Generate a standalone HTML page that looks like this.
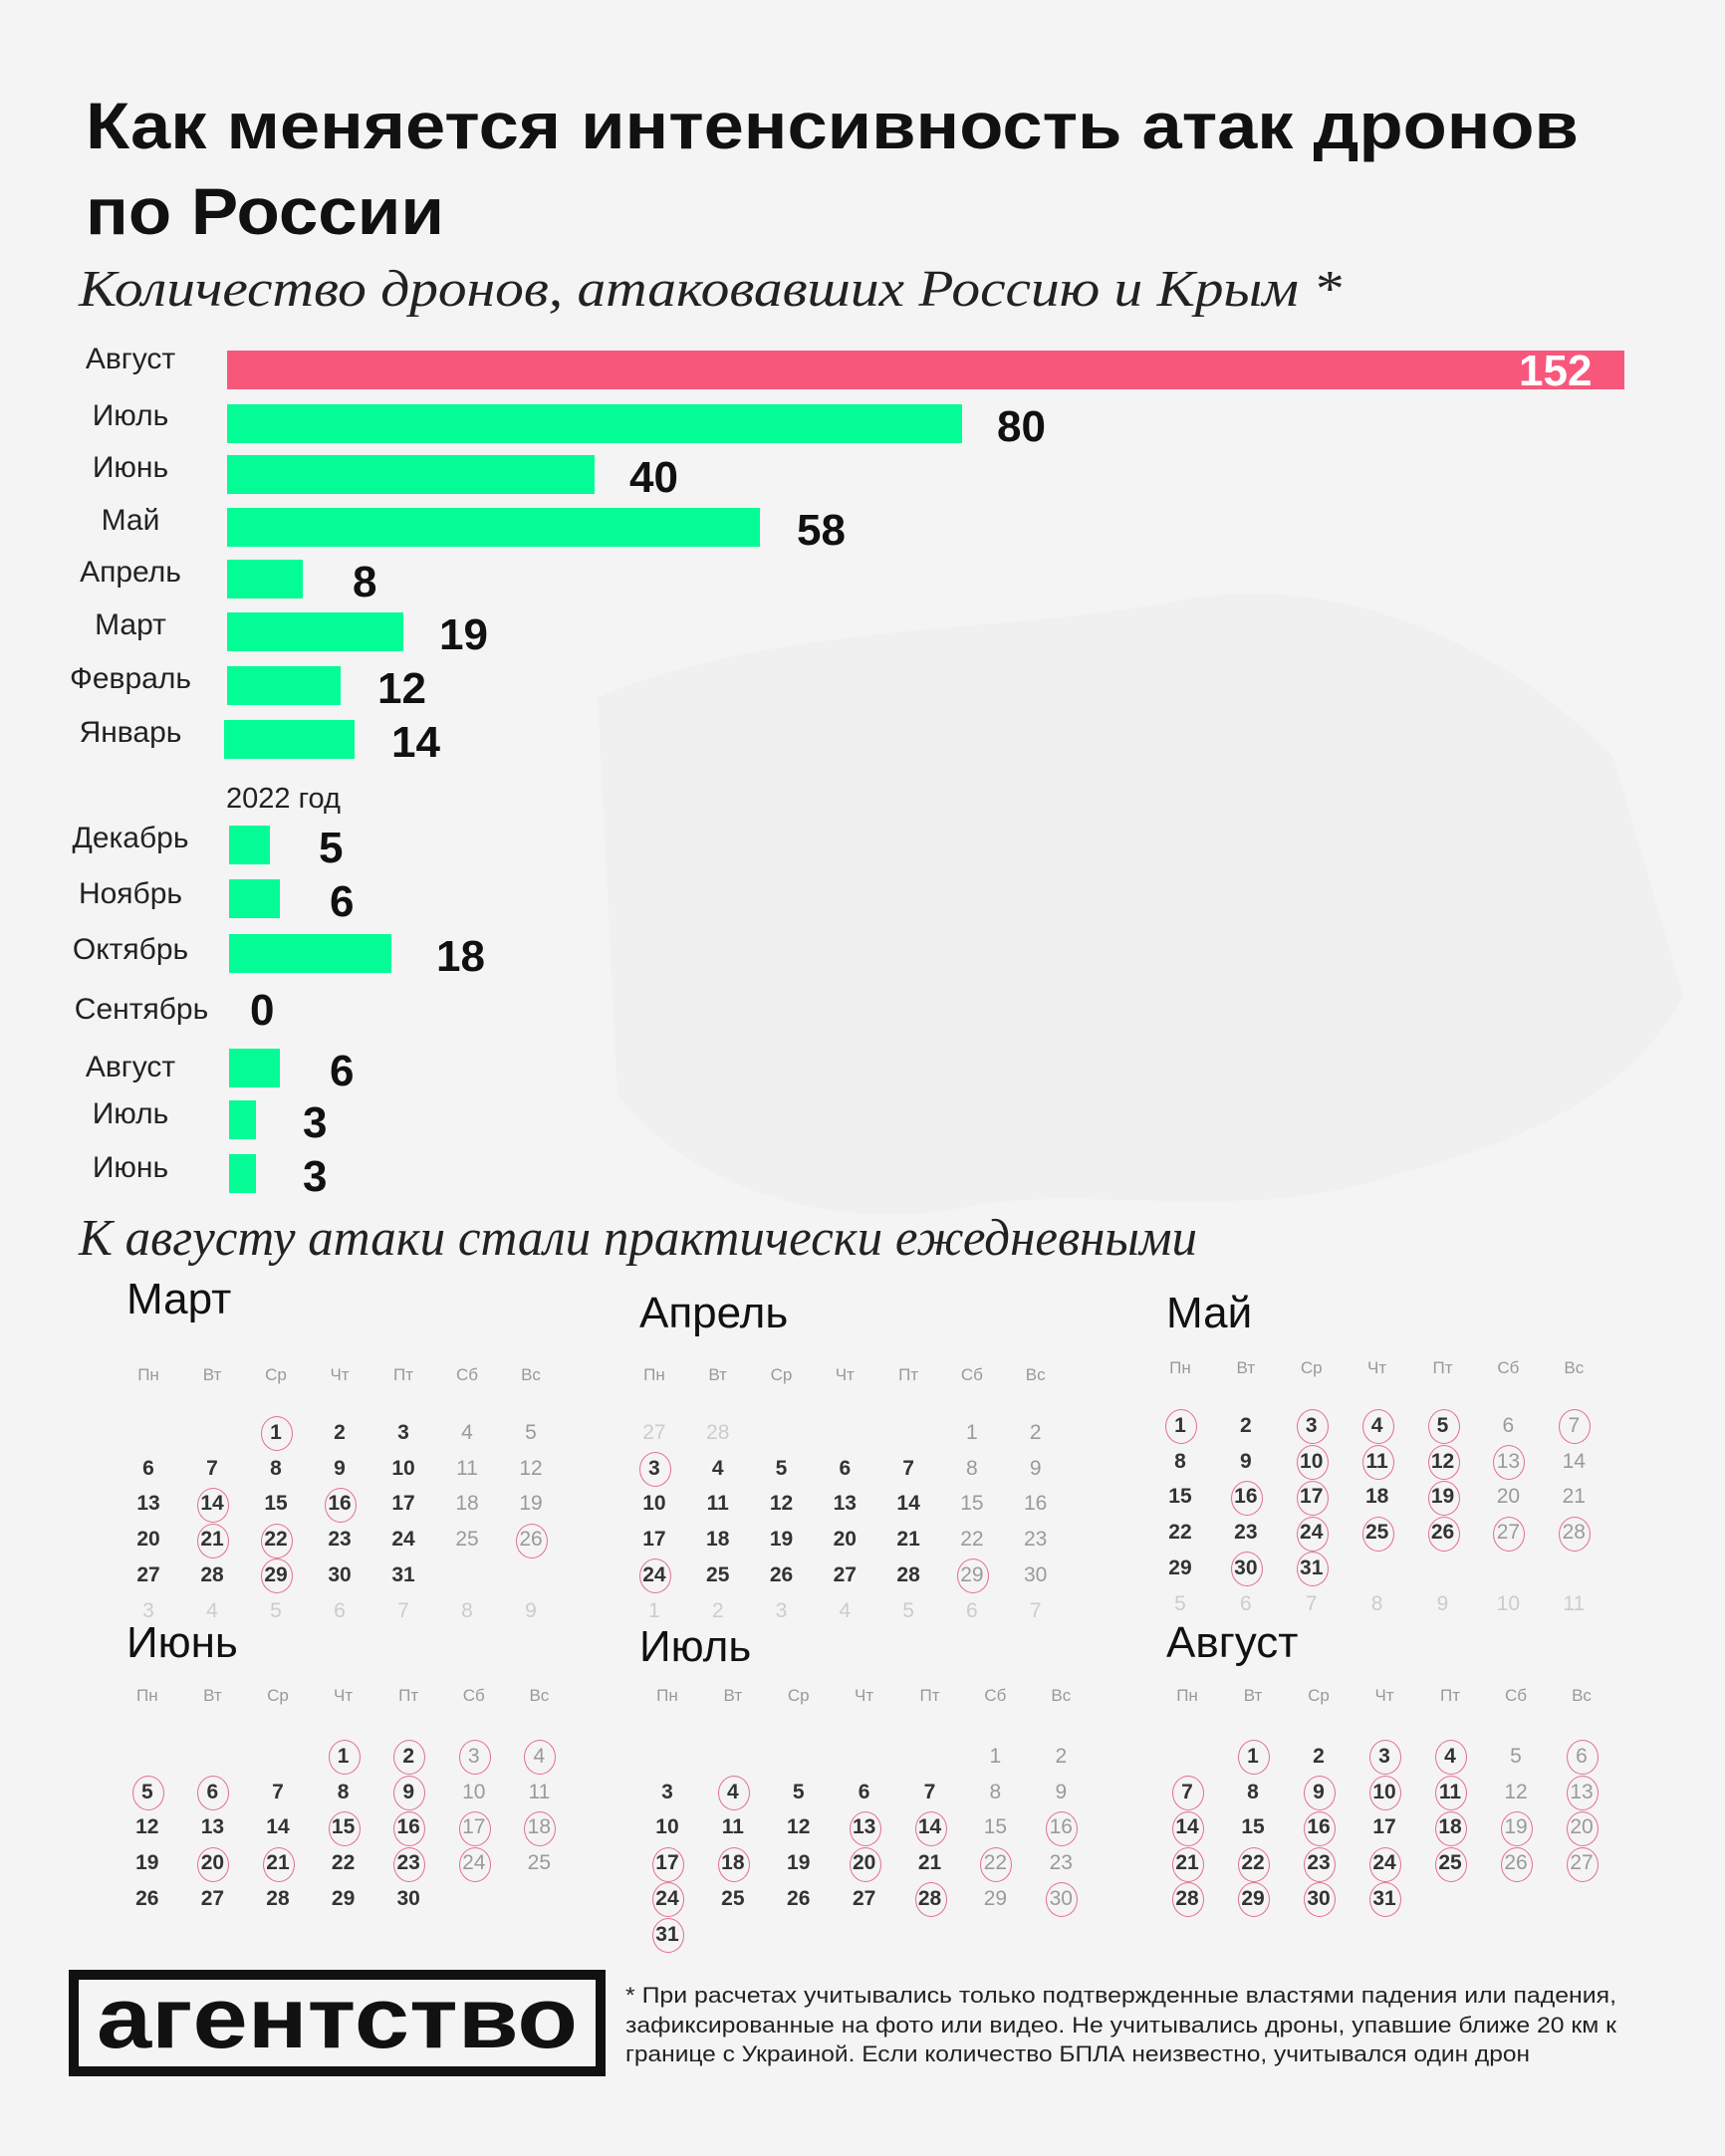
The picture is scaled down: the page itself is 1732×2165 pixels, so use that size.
<!DOCTYPE html>
<html><head><meta charset="utf-8">
<style>
*{margin:0;padding:0;box-sizing:border-box}
body{width:1732px;height:2165px;background:#f4f4f4;position:relative;overflow:hidden;font-family:"Liberation Sans",sans-serif;color:#111}
.bar{position:absolute;height:39px;background:#03fc96}
.val{position:absolute;font-weight:bold;font-size:44px;line-height:44px;color:#111}
.lab{position:absolute;width:200px;left:31px;text-align:center;font-size:30px;line-height:30px;color:#222}
.mt{position:absolute;font-size:44px;line-height:44px;color:#111}
.cal{position:absolute}
.g{display:grid;grid-template-columns:repeat(7,var(--s));}
.g i{font-style:normal;height:35.8px;line-height:35.8px;text-align:center;font-size:21px;font-weight:bold;color:#333;position:relative}
.h i{font-weight:normal;font-size:17px;color:#999}
.g i.w{color:#9a9a9a;font-weight:normal}
.g i.o{color:#ccc;font-weight:normal}
.g i.c::after{content:"";position:absolute;left:50%;top:50%;width:30px;height:33px;margin:-16.5px 0 0 -15px;border:1.6px solid #e5708c;border-radius:50%}
</style></head><body>
<svg width="1732" height="2165" style="position:absolute;left:0;top:0">
<path d="M600 700 C800 620 1000 640 1200 600 C1350 580 1500 640 1620 760 L1690 1000 C1640 1100 1520 1150 1400 1180 C1250 1230 1100 1190 980 1210 C850 1240 700 1200 620 1100 Z" fill="#f0f0f0"/>
<text x="86" y="149" font-family="Liberation Sans" font-weight="bold" font-size="66" textLength="1499" lengthAdjust="spacingAndGlyphs" fill="#111">Как меняется интенсивность атак дронов</text>
<text x="86" y="235" font-family="Liberation Sans" font-weight="bold" font-size="66" textLength="360" lengthAdjust="spacingAndGlyphs" fill="#111">по России</text>
<text x="79" y="307" font-family="Liberation Serif" font-style="italic" font-size="52" textLength="1268" lengthAdjust="spacingAndGlyphs" fill="#222">Количество дронов, атаковавших Россию и Крым *</text>
<text x="79" y="1260" font-family="Liberation Serif" font-style="italic" font-size="52" textLength="1123" lengthAdjust="spacingAndGlyphs" fill="#222">К августу атаки стали практически ежедневными</text>
<rect x="74" y="1983" width="529" height="97" fill="none" stroke="#111" stroke-width="10"/>
<text x="97" y="2056" font-family="Liberation Sans" font-weight="bold" font-size="86" textLength="483" lengthAdjust="spacingAndGlyphs" fill="#111">агентство</text>
<text x="628" y="2011" font-family="Liberation Sans" font-size="22" textLength="995" lengthAdjust="spacingAndGlyphs" fill="#222">* При расчетах учитывались только подтвержденные властями падения или падения,</text>
<text x="628" y="2041" font-family="Liberation Sans" font-size="22" textLength="995" lengthAdjust="spacingAndGlyphs" fill="#222">зафиксированные на фото или видео. Не учитывались дроны, упавшие ближе 20 км к</text>
<text x="628" y="2070" font-family="Liberation Sans" font-size="22" textLength="908" lengthAdjust="spacingAndGlyphs" fill="#222">границе с Украиной. Если количество БПЛА неизвестно, учитывался один дрон</text>
</svg>

<div class="bar" style="left:228px;top:352px;width:1403px;background:#f8577c"></div>
<div class="val" style="left:1525px;top:351px;color:#fff">152</div>
<div class="lab" style="top:346px">Август</div>

<div class="bar" style="left:228px;top:406px;width:738px"></div><div class="val" style="left:1001px;top:407px">80</div><div class="lab" style="top:403px">Июль</div>
<div class="bar" style="left:228px;top:457px;width:369px"></div><div class="val" style="left:632px;top:458px">40</div><div class="lab" style="top:455px">Июнь</div>
<div class="bar" style="left:228px;top:510px;width:535px"></div><div class="val" style="left:800px;top:511px">58</div><div class="lab" style="top:508px">Май</div>
<div class="bar" style="left:228px;top:562px;width:76px"></div><div class="val" style="left:354px;top:563px">8</div><div class="lab" style="top:560px">Апрель</div>
<div class="bar" style="left:228px;top:615px;width:177px"></div><div class="val" style="left:441px;top:616px">19</div><div class="lab" style="top:613px">Март</div>
<div class="bar" style="left:228px;top:669px;width:114px"></div><div class="val" style="left:379px;top:670px">12</div><div class="lab" style="top:667px">Февраль</div>
<div class="bar" style="left:225px;top:723px;width:131px"></div><div class="val" style="left:393px;top:724px">14</div><div class="lab" style="top:721px">Январь</div>
<div style="position:absolute;left:227px;top:786px;font-size:29px;color:#222">2022 год</div>
<div class="bar" style="left:230px;top:829px;width:41px"></div><div class="val" style="left:320px;top:830px">5</div><div class="lab" style="top:827px">Декабрь</div>
<div class="bar" style="left:230px;top:883px;width:51px"></div><div class="val" style="left:331px;top:884px">6</div><div class="lab" style="top:883px">Ноябрь</div>
<div class="bar" style="left:230px;top:938px;width:163px"></div><div class="val" style="left:438px;top:939px">18</div><div class="lab" style="top:939px">Октябрь</div>
<div class="val" style="left:251px;top:993px">0</div><div class="lab" style="top:999px;left:42px">Сентябрь</div>
<div class="bar" style="left:230px;top:1053px;width:51px"></div><div class="val" style="left:331px;top:1054px">6</div><div class="lab" style="top:1057px">Август</div>
<div class="bar" style="left:230px;top:1105px;width:27px"></div><div class="val" style="left:304px;top:1106px">3</div><div class="lab" style="top:1104px">Июль</div>
<div class="bar" style="left:230px;top:1159px;width:27px"></div><div class="val" style="left:304px;top:1160px">3</div><div class="lab" style="top:1158px">Июнь</div>

<div class="mt" style="left:127px;top:1283px">Март</div>
<div class="mt" style="left:642px;top:1297px">Апрель</div>
<div class="mt" style="left:1171px;top:1297px">Май</div>
<div class="mt" style="left:127px;top:1628px">Июнь</div>
<div class="mt" style="left:642px;top:1632px">Июль</div>
<div class="mt" style="left:1171px;top:1628px">Август</div>

<div class="cal" style="--s:64px;left:117px;top:1363px">
<div class="g h"><i>Пн</i><i>Вт</i><i>Ср</i><i>Чт</i><i>Пт</i><i>Сб</i><i>Вс</i></div>
<div class="g" style="margin-top:22px">
<i></i><i></i><i class="c">1</i><i>2</i><i>3</i><i class="w">4</i><i class="w">5</i>
<i>6</i><i>7</i><i>8</i><i>9</i><i>10</i><i class="w">11</i><i class="w">12</i>
<i>13</i><i class="c">14</i><i>15</i><i class="c">16</i><i>17</i><i class="w">18</i><i class="w">19</i>
<i>20</i><i class="c">21</i><i class="c">22</i><i>23</i><i>24</i><i class="w">25</i><i class="w c">26</i>
<i>27</i><i>28</i><i class="c">29</i><i>30</i><i>31</i><i></i><i></i>
<i class="o">3</i><i class="o">4</i><i class="o">5</i><i class="o">6</i><i class="o">7</i><i class="o">8</i><i class="o">9</i>
</div></div>

<div class="cal" style="--s:63.8px;left:625px;top:1363px">
<div class="g h"><i>Пн</i><i>Вт</i><i>Ср</i><i>Чт</i><i>Пт</i><i>Сб</i><i>Вс</i></div>
<div class="g" style="margin-top:22px">
<i class="o">27</i><i class="o">28</i><i></i><i></i><i></i><i class="w">1</i><i class="w">2</i>
<i class="c">3</i><i>4</i><i>5</i><i>6</i><i>7</i><i class="w">8</i><i class="w">9</i>
<i>10</i><i>11</i><i>12</i><i>13</i><i>14</i><i class="w">15</i><i class="w">16</i>
<i>17</i><i>18</i><i>19</i><i>20</i><i>21</i><i class="w">22</i><i class="w">23</i>
<i class="c">24</i><i>25</i><i>26</i><i>27</i><i>28</i><i class="w c">29</i><i class="w">30</i>
<i class="o">1</i><i class="o">2</i><i class="o">3</i><i class="o">4</i><i class="o">5</i><i class="o">6</i><i class="o">7</i>
</div></div>

<div class="cal" style="--s:65.9px;left:1152px;top:1356px">
<div class="g h"><i>Пн</i><i>Вт</i><i>Ср</i><i>Чт</i><i>Пт</i><i>Сб</i><i>Вс</i></div>
<div class="g" style="margin-top:22px">
<i class="c">1</i><i>2</i><i class="c">3</i><i class="c">4</i><i class="c">5</i><i class="w">6</i><i class="w c">7</i>
<i>8</i><i>9</i><i class="c">10</i><i class="c">11</i><i class="c">12</i><i class="w c">13</i><i class="w">14</i>
<i>15</i><i class="c">16</i><i class="c">17</i><i>18</i><i class="c">19</i><i class="w">20</i><i class="w">21</i>
<i>22</i><i>23</i><i class="c">24</i><i class="c">25</i><i class="c">26</i><i class="w c">27</i><i class="w c">28</i>
<i>29</i><i class="c">30</i><i class="c">31</i><i></i><i></i><i></i><i></i>
<i class="o">5</i><i class="o">6</i><i class="o">7</i><i class="o">8</i><i class="o">9</i><i class="o">10</i><i class="o">11</i>
</div></div>

<div class="cal" style="--s:65.6px;left:115px;top:1685px">
<div class="g h"><i>Пн</i><i>Вт</i><i>Ср</i><i>Чт</i><i>Пт</i><i>Сб</i><i>Вс</i></div>
<div class="g" style="margin-top:25px">
<i></i><i></i><i></i><i class="c">1</i><i class="c">2</i><i class="w c">3</i><i class="w c">4</i>
<i class="c">5</i><i class="c">6</i><i>7</i><i>8</i><i class="c">9</i><i class="w">10</i><i class="w">11</i>
<i>12</i><i>13</i><i>14</i><i class="c">15</i><i class="c">16</i><i class="w c">17</i><i class="w c">18</i>
<i>19</i><i class="c">20</i><i class="c">21</i><i>22</i><i class="c">23</i><i class="w c">24</i><i class="w">25</i>
<i>26</i><i>27</i><i>28</i><i>29</i><i>30</i><i></i><i></i>
</div></div>

<div class="cal" style="--s:65.9px;left:637px;top:1685px">
<div class="g h"><i>Пн</i><i>Вт</i><i>Ср</i><i>Чт</i><i>Пт</i><i>Сб</i><i>Вс</i></div>
<div class="g" style="margin-top:25px">
<i></i><i></i><i></i><i></i><i></i><i class="w">1</i><i class="w">2</i>
<i>3</i><i class="c">4</i><i>5</i><i>6</i><i>7</i><i class="w">8</i><i class="w">9</i>
<i>10</i><i>11</i><i>12</i><i class="c">13</i><i class="c">14</i><i class="w">15</i><i class="w c">16</i>
<i class="c">17</i><i class="c">18</i><i>19</i><i class="c">20</i><i>21</i><i class="w c">22</i><i class="w">23</i>
<i class="c">24</i><i>25</i><i>26</i><i>27</i><i class="c">28</i><i class="w">29</i><i class="w c">30</i>
<i class="c">31</i><i></i><i></i><i></i><i></i><i></i><i></i>
</div></div>

<div class="cal" style="--s:66px;left:1159px;top:1685px">
<div class="g h"><i>Пн</i><i>Вт</i><i>Ср</i><i>Чт</i><i>Пт</i><i>Сб</i><i>Вс</i></div>
<div class="g" style="margin-top:25px">
<i></i><i class="c">1</i><i>2</i><i class="c">3</i><i class="c">4</i><i class="w">5</i><i class="w c">6</i>
<i class="c">7</i><i>8</i><i class="c">9</i><i class="c">10</i><i class="c">11</i><i class="w">12</i><i class="w c">13</i>
<i class="c">14</i><i>15</i><i class="c">16</i><i>17</i><i class="c">18</i><i class="w c">19</i><i class="w c">20</i>
<i class="c">21</i><i class="c">22</i><i class="c">23</i><i class="c">24</i><i class="c">25</i><i class="w c">26</i><i class="w c">27</i>
<i class="c">28</i><i class="c">29</i><i class="c">30</i><i class="c">31</i><i></i><i></i><i></i>
</div></div>
</body></html>
